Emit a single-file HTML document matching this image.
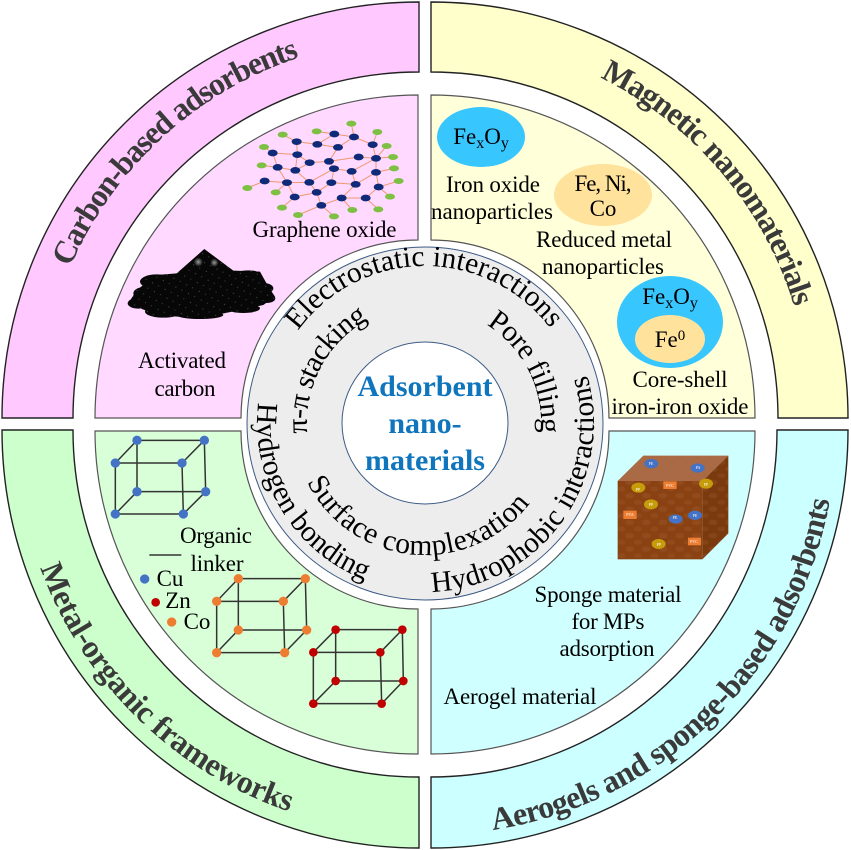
<!DOCTYPE html>
<html><head><meta charset="utf-8">
<style>
html,body{margin:0;padding:0;background:#fff;width:851px;height:850px;overflow:hidden}
svg{display:block;filter:blur(.35px)}
text{font-family:"Liberation Serif",serif}
.b{font-size:32px;font-weight:bold;fill:#3a3a3a}
.r{font-size:29.5px;fill:#000}
.l{font-size:23px;fill:#000;text-anchor:middle}
.c{font-size:30px;font-weight:bold;fill:#0f75bd;text-anchor:middle}
.t{font-size:4px;fill:#fff;text-anchor:middle}
</style></head><body>
<svg width="851" height="850" viewBox="0 0 851 850" xmlns="http://www.w3.org/2000/svg">
<defs>
<path id="p1" d="M70.2 267.1A380 380 0 0 1 299.7 57.2"/>
<path id="p2" d="M600 77.6A380 380 0 0 1 794.4 306.9"/>
<path id="p3" d="M40.3 567.8A403 403 0 0 0 289.1 811.5"/>
<path id="p4" d="M493 830A405 405 0 0 0 829.8 500.3"/>
<path id="r1" d="M298 330.7A157 157 0 0 1 550.4 328.5"/>
<path id="r2" d="M307.4 433.3A118 118 0 0 1 367.8 319.8"/>
<path id="r3" d="M486.5 324.6A116 116 0 0 1 540.6 433.1"/>
<path id="r4" d="M258.3 402.5A168 168 0 0 0 364.8 579.8"/>
<path id="r5" d="M307 482.1A132 132 0 0 0 529.7 503.4"/>
<path id="r6" d="M432 591.9A169 169 0 0 0 587 375"/>
<pattern id="coal" width="33" height="27" patternUnits="userSpaceOnUse" patternTransform="rotate(-12)">
<rect width="33" height="27" fill="#070707"/>
<circle cx="7" cy="7" r="1.5" fill="#6a6a6a"/><circle cx="23" cy="20" r="1.5" fill="#5a5a5a"/>
</pattern>
<pattern id="sp" width="50" height="40" patternUnits="userSpaceOnUse">
<ellipse cx="14" cy="12" rx="13" ry="8" fill="#a9683a" opacity=".25"/>
<ellipse cx="39" cy="32" rx="12" ry="7" fill="#a9683a" opacity=".2"/>
</pattern>
<radialGradient id="gl"><stop offset="0" stop-color="#999"/><stop offset="1" stop-color="#111"/></radialGradient>
</defs>

<!-- outer bands -->
<g stroke="#222" stroke-width="1.4">
<path d="M2 418A417 416 0 0 1 419 2V72A346 346 0 0 0 73 418Z" fill="#ffc9ff"/>
<path d="M431 2A417 416 0 0 1 848 418H778A347 346 0 0 0 431 72Z" fill="#ffffcc"/>
<path d="M2 430A417 418 0 0 0 419 848V777A346 347 0 0 1 73 430Z" fill="#ccffcc"/>
<path d="M431 848A417 418 0 0 0 848 430H777A346 347 0 0 1 431 777Z" fill="#ccffff"/>
</g>
<!-- inner sectors -->
<g stroke="#555" stroke-width="1.2">
<path d="M95 418A323 323 0 0 1 418 95V240A177 178 0 0 0 241 418Z" fill="#ffd9ff"/>
<path d="M431 95A324 323 0 0 1 755 418H609A178 178 0 0 0 431 240Z" fill="#ffffd9"/>
<path d="M95 431A323 323 0 0 0 418 754V609A177 178 0 0 1 241 431Z" fill="#d9ffd9"/>
<path d="M431 754A324 323 0 0 0 755 431H609A178 178 0 0 1 431 609Z" fill="#d0ffff"/>
</g>

<text class="b"><textPath href="#p1" textLength="320">Carbon-based adsorbents</textPath></text>
<text class="b"><textPath href="#p2" textLength="309">Magnetic nanomaterials</textPath></text>
<text class="b"><textPath href="#p3" textLength="360">Metal-organic frameworks</textPath></text>
<text class="b"><textPath href="#p4" textLength="503">Aerogels and sponge-based adsorbents</textPath></text>

<!-- centre -->
<ellipse cx="425" cy="423.5" rx="178" ry="176.5" fill="#ededed" stroke="#3d5a85" stroke-width="1"/>
<ellipse cx="425" cy="423" rx="83" ry="81" fill="#fff" stroke="#3d5a85" stroke-width="1"/>
<text class="r"><textPath href="#r1" textLength="293">Electrostatic interactions</textPath></text>
<text class="r"><textPath href="#r2" textLength="136">π-π stacking</textPath></text>
<text class="r"><textPath href="#r3" textLength="127">Pore filling</textPath></text>
<text class="r"><textPath href="#r4" textLength="223">Hydrogen bonding</textPath></text>
<text class="r"><textPath href="#r5" textLength="267">Surface complexation</textPath></text>
<text class="r"><textPath href="#r6" textLength="307">Hydrophobic interactions</textPath></text>
<text class="c" x="425" y="396">Adsorbent</text>
<text class="c" x="425" y="433">nano-</text>
<text class="c" x="425" y="470">materials</text>

<!-- graphene oxide -->
<g transform="scale(.33333)">
<g stroke="#ee9a6e" stroke-width="3" fill="none">
<path d="M848 404L890 425M950 394L1003 402M1054 371L1062 411M1132 396L1118 434M1160 438L1128 475M1179 471L1128 475M1182 505L1128 517M1196 543L1136 561M1170 590L1136 561M1135 628L1097 594M1057 630L1025 594M1002 649L964 616M894 645L964 616M846 623L884 591M827 577L861 548M742 564L794 543M785 496L833 502M792 441L818 459"/>
<path d="M890 425L892 464M890 425L952 433M952 433L1003 402M1003 402L1062 411M952 433L1014 442M1014 442L1062 411M1062 411L1118 434M1118 434L1128 475M818 459L892 464M892 464L929 488M929 488L987 484M987 484L1014 442M987 484L1076 471M1076 471L1128 475M818 459L833 502M833 502L886 511M892 464L886 511M886 511L929 488M987 484L1002 506M1002 506L1055 514M1055 514L1128 475M1055 514L1067 553M1128 475L1128 517M1128 517L1067 553M1128 517L1136 561M794 543L861 548M833 502L861 548M886 511L928 547M861 548L928 547M928 547L1002 506M928 547L950 577M994 548L1002 506M994 548L1067 553M994 548L950 577M861 548L884 591M884 591L950 577M950 577L964 616M964 616L1025 594M1025 594L1067 553M1025 594L1097 594M1097 594L1136 561"/>
</g>
<g fill="#7dc043">
<ellipse cx="848" cy="404" rx="15" ry="9"/><ellipse cx="950" cy="394" rx="15" ry="9"/><ellipse cx="1054" cy="371" rx="15" ry="9"/><ellipse cx="1132" cy="396" rx="15" ry="9"/><ellipse cx="1160" cy="438" rx="15" ry="9"/><ellipse cx="1179" cy="471" rx="15" ry="9"/><ellipse cx="1182" cy="505" rx="15" ry="9"/><ellipse cx="1196" cy="543" rx="15" ry="9"/><ellipse cx="1170" cy="590" rx="15" ry="9"/><ellipse cx="1135" cy="628" rx="15" ry="9"/><ellipse cx="1057" cy="630" rx="15" ry="9"/><ellipse cx="1002" cy="649" rx="15" ry="9"/><ellipse cx="894" cy="645" rx="15" ry="9"/><ellipse cx="846" cy="623" rx="15" ry="9"/><ellipse cx="827" cy="577" rx="15" ry="9"/><ellipse cx="742" cy="564" rx="15" ry="9"/><ellipse cx="785" cy="496" rx="15" ry="9"/><ellipse cx="792" cy="441" rx="15" ry="9"/>
</g>
<g fill="#0f2a78">
<ellipse cx="890" cy="425" rx="15" ry="10"/><ellipse cx="952" cy="433" rx="15" ry="10"/><ellipse cx="1003" cy="402" rx="15" ry="10"/><ellipse cx="1062" cy="411" rx="15" ry="10"/><ellipse cx="1014" cy="442" rx="15" ry="10"/><ellipse cx="1118" cy="434" rx="15" ry="10"/><ellipse cx="818" cy="459" rx="15" ry="10"/><ellipse cx="892" cy="464" rx="15" ry="10"/><ellipse cx="929" cy="488" rx="15" ry="10"/><ellipse cx="987" cy="484" rx="15" ry="10"/><ellipse cx="1076" cy="471" rx="15" ry="10"/><ellipse cx="1128" cy="475" rx="15" ry="10"/><ellipse cx="833" cy="502" rx="15" ry="10"/><ellipse cx="886" cy="511" rx="15" ry="10"/><ellipse cx="1002" cy="506" rx="15" ry="10"/><ellipse cx="1055" cy="514" rx="15" ry="10"/><ellipse cx="1128" cy="517" rx="15" ry="10"/><ellipse cx="794" cy="543" rx="15" ry="10"/><ellipse cx="861" cy="548" rx="15" ry="10"/><ellipse cx="928" cy="547" rx="15" ry="10"/><ellipse cx="994" cy="548" rx="15" ry="10"/><ellipse cx="1067" cy="553" rx="15" ry="10"/><ellipse cx="1136" cy="561" rx="15" ry="10"/><ellipse cx="884" cy="591" rx="15" ry="10"/><ellipse cx="950" cy="577" rx="15" ry="10"/><ellipse cx="1025" cy="594" rx="15" ry="10"/><ellipse cx="1097" cy="594" rx="15" ry="10"/><ellipse cx="964" cy="616" rx="15" ry="10"/>
</g>
<!-- activated carbon pile -->
<g fill="url(#coal)">
<path d="M613 747L700 812L780 815L805 860L825 890L790 915L720 930L600 955L470 945L385 910L410 870L470 825L530 820Z"/>
<ellipse cx="470" cy="845" rx="50" ry="22"/><ellipse cx="430" cy="880" rx="30" ry="18"/><ellipse cx="415" cy="910" rx="32" ry="16"/><ellipse cx="490" cy="935" rx="55" ry="18"/><ellipse cx="600" cy="945" rx="70" ry="12"/><ellipse cx="730" cy="925" rx="50" ry="14"/><ellipse cx="745" cy="825" rx="38" ry="14"/><ellipse cx="790" cy="865" rx="30" ry="16"/><ellipse cx="800" cy="895" rx="26" ry="14"/>
</g>
<circle cx="595" cy="786" r="13" fill="url(#gl)"/><circle cx="643" cy="788" r="12" fill="url(#gl)"/>
</g>
<text class="l" x="324.5" y="237" textLength="144">Graphene oxide</text>
<text class="l" x="182" y="368" textLength="88">Activated</text>
<text class="l" x="185" y="396" textLength="61">carbon</text>

<!-- magnetic -->
<ellipse cx="481" cy="137" rx="44" ry="30" fill="#38c6fe"/>
<ellipse cx="603" cy="195" rx="49" ry="31" fill="#ffe29b"/>
<ellipse cx="670" cy="322" rx="53" ry="46" fill="#38c6fe"/>
<ellipse cx="670" cy="339" rx="35" ry="24" fill="#ffe29b"/>
<text class="l" x="481" y="144">Fe<tspan dy="4" font-size="16">x</tspan><tspan dy="-4">O</tspan><tspan dy="4" font-size="16">y</tspan></text>
<text class="l" x="670" y="304">Fe<tspan dy="4" font-size="16">x</tspan><tspan dy="-4">O</tspan><tspan dy="4" font-size="16">y</tspan></text>
<text class="l" x="670" y="347">Fe<tspan dy="-7" font-size="15">0</tspan></text>
<text class="l" x="493" y="192" textLength="94">Iron oxide</text>
<text class="l" x="492" y="219" textLength="122">nanoparticles</text>
<text class="l" x="603" y="191" textLength="57">Fe, Ni,</text>
<text class="l" x="603" y="216">Co</text>
<text class="l" x="604" y="247" textLength="136">Reduced metal</text>
<text class="l" x="603" y="274" textLength="122">nanoparticles</text>
<text class="l" x="680" y="387" textLength="95">Core-shell</text>
<text class="l" x="680" y="414" textLength="137">iron-iron oxide</text>

<!-- MOF cubes -->
<g transform="translate(0 425) scale(.33333)" stroke="#333" stroke-width="4.5" fill="none">
<path d="M411 46H613L617 200H411ZM346 114H546L550 267H346ZM411 46L346 114M613 46L546 114M411 200L346 267M617 200L550 267"/>
<path d="M715 461H916L920 615H715ZM650 529H850L854 683H650ZM715 461L650 529M916 461L850 529M715 615L650 683M920 615L854 683"/>
<path d="M1007 614H1207L1210 768H1007ZM940 682H1141L1145 836H940ZM1007 614L940 682M1207 614L1141 682M1007 768L940 836M1210 768L1145 836"/>
<path d="M448 390H544"/>
<g stroke="none" fill="#4472c4">
<circle cx="411" cy="46" r="14"/><circle cx="613" cy="46" r="14"/><circle cx="346" cy="114" r="14"/><circle cx="546" cy="114" r="14"/><circle cx="411" cy="200" r="14"/><circle cx="617" cy="200" r="14"/><circle cx="346" cy="267" r="14"/><circle cx="550" cy="267" r="14"/><circle cx="434" cy="462" r="14"/>
</g>
<g stroke="none" fill="#ed7d31">
<circle cx="715" cy="461" r="14"/><circle cx="916" cy="461" r="14"/><circle cx="650" cy="529" r="14"/><circle cx="850" cy="529" r="14"/><circle cx="715" cy="615" r="14"/><circle cx="920" cy="615" r="14"/><circle cx="650" cy="683" r="14"/><circle cx="854" cy="683" r="14"/><circle cx="515" cy="591" r="14"/>
</g>
<g stroke="none" fill="#c00000">
<circle cx="1007" cy="614" r="13"/><circle cx="1207" cy="614" r="13"/><circle cx="940" cy="682" r="13"/><circle cx="1141" cy="682" r="13"/><circle cx="1007" cy="768" r="13"/><circle cx="1210" cy="768" r="13"/><circle cx="940" cy="836" r="13"/><circle cx="1145" cy="836" r="13"/><circle cx="467" cy="532" r="13"/>
</g>
</g>
<text class="l" x="216" y="543" textLength="72">Organic</text>
<text class="l" x="217" y="571" textLength="53">linker</text>
<text class="l" x="170" y="586">Cu</text>
<text class="l" x="178" y="608">Zn</text>
<text class="l" x="197" y="629">Co</text>

<!-- sponge cube -->
<g transform="translate(425 425) scale(.33333)">
<path d="M578 168L655 92H910L832 168Z" fill="#a96a45"/>
<path d="M578 168L655 92H910L832 168Z" fill="url(#sp)"/>
<path d="M832 168L910 92V325L832 403Z" fill="#7a3a0e"/>
<path d="M832 168L910 92V325L832 403Z" fill="url(#sp)"/>
<rect x="578" y="168" width="254" height="235" fill="#8a4213"/>
<rect x="578" y="168" width="254" height="235" fill="url(#sp)"/>
<g fill="#4472c4"><ellipse cx="679" cy="116" rx="21" ry="14"/><ellipse cx="818" cy="129" rx="21" ry="14"/><ellipse cx="752" cy="282" rx="21" ry="14"/><ellipse cx="810" cy="271" rx="21" ry="14"/></g>
<g fill="#c69c0a"><ellipse cx="640" cy="188" rx="21" ry="15"/><ellipse cx="843" cy="176" rx="21" ry="15"/><ellipse cx="678" cy="238" rx="21" ry="15"/><ellipse cx="701" cy="357" rx="21" ry="15"/></g>
<g fill="#ed7d31"><rect x="715" y="169" width="40" height="23"/><rect x="595" y="257" width="40" height="25"/><rect x="789" y="338" width="39" height="23"/></g>
</g>
<g class="t">
<text class="t" x="651" y="465">PE</text><text class="t" x="698" y="469">PA</text><text class="t" x="675" y="519">PE</text><text class="t" x="695" y="517">PE</text><text class="t" x="638" y="491">PP</text><text class="t" x="706" y="486">PP</text><text class="t" x="651" y="506">PP</text><text class="t" x="659" y="546">PP</text><text class="t" x="670" y="487">PVC</text><text class="t" x="630" y="516">PVA</text><text class="t" x="694" y="543">PVC</text>
</g>
<text class="l" x="608" y="602" textLength="147">Sponge material</text>
<text class="l" x="608" y="629" textLength="73">for MPs</text>
<text class="l" x="607" y="656" textLength="95">adsorption</text>
<text class="l" x="520" y="704" textLength="153">Aerogel material</text>
</svg>
</body></html>
